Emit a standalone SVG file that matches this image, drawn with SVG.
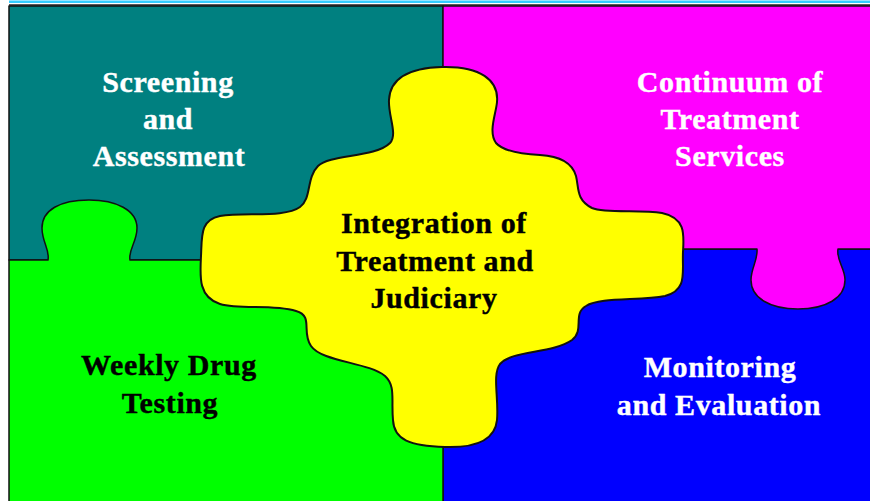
<svg xmlns="http://www.w3.org/2000/svg" width="870" height="501" viewBox="0 0 870 501">
<style>
.piece{stroke:#111;stroke-width:1.5;stroke-linejoin:round}
.lbl{font-family:"Liberation Serif","Times New Roman",serif;font-weight:bold;font-size:30px;letter-spacing:0.6px;text-anchor:middle;stroke-width:0.4px}
.w{fill:#ffffff;stroke:#ffffff}
.k{fill:#000000;stroke:#000000}
</style>
<rect x="0" y="0" width="870" height="501" fill="#ffffff"/>
<rect x="9" y="0.5" width="861" height="2.5" fill="#33ccff"/>
<line x1="9" y1="5" x2="870" y2="5" stroke="#222" stroke-width="1.5"/>
<g id="screening">
<rect class="piece" x="9" y="6" width="434" height="254" fill="#008080"/>
<text class="lbl w" x="168" y="92">Screening</text>
<text class="lbl w" x="168" y="129">and</text>
<text class="lbl w" x="169" y="166">Assessment</text>
</g>
<g id="monitoring">
<rect class="piece" x="443" y="249" width="430" height="255" fill="#0000ff"/>
<text class="lbl w" x="720" y="377">Monitoring</text>
<text class="lbl w" x="719" y="415">and Evaluation</text>
</g>
<g id="testing">
<path class="piece" fill="#00ff00" d="M 9 260 L 48 260 C 50 250, 42 242, 42 228 C 42 210, 60 200, 89 200 C 116 200, 137 210, 137 228 C 137 242, 128 250, 130 260 L 443 260 L 443 504 L 9 504 Z"/>
<text class="lbl k" x="169" y="375">Weekly Drug</text>
<text class="lbl k" x="170" y="413">Testing</text>
</g>
<g id="continuum">
<path class="piece" fill="#ff00ff" d="M 443 6 L 873 6 L 873 249 L 838 249 C 836 260, 845 268, 845 280 C 845 298, 826 309, 798 309 C 770 309, 751 298, 751 280 C 751 268, 758 260, 757 249 L 443 249 Z"/>
<text class="lbl w" x="730" y="92">Continuum of</text>
<text class="lbl w" x="730" y="129">Treatment</text>
<text class="lbl w" x="730" y="166">Services</text>
</g>
<g id="integration">
<path fill="#ffff00" stroke="#111" stroke-width="2" stroke-linejoin="round" d="M 442 67 C 480 66, 499 80, 497 102 C 496 114, 488 132, 496 143 C 503 151, 520 154, 540 155 C 558 156, 572 162, 576 176 C 579 188, 576 200, 592 208 C 607 214, 640 209, 662 213 C 686 218, 684 235, 683 252 C 682 272, 688 290, 665 296 C 640 301, 600 297, 586 306 C 572 314, 585 330, 572 340 C 552 354, 512 350, 500 364 C 492 375, 499 398, 497 420 C 495 440, 476 448, 445 447 C 410 446, 394 440, 393 420 C 391 400, 396 386, 385 376 C 368 362, 322 362, 311 346 C 301 332, 314 316, 296 311 C 272 304, 240 310, 220 304 C 198 297, 200 276, 201 256 C 202 236, 200 220, 220 216 C 245 212, 285 218, 300 207 C 312 198, 306 178, 318 166 C 330 154, 375 158, 390 143 C 398 134, 388 116, 389 100 C 390 80, 405 68, 442 67 Z"/>
<text class="lbl k" x="434" y="233">Integration of</text>
<text class="lbl k" x="435" y="271">Treatment and</text>
<text class="lbl k" x="434" y="308">Judiciary</text>
</g>
</svg>
